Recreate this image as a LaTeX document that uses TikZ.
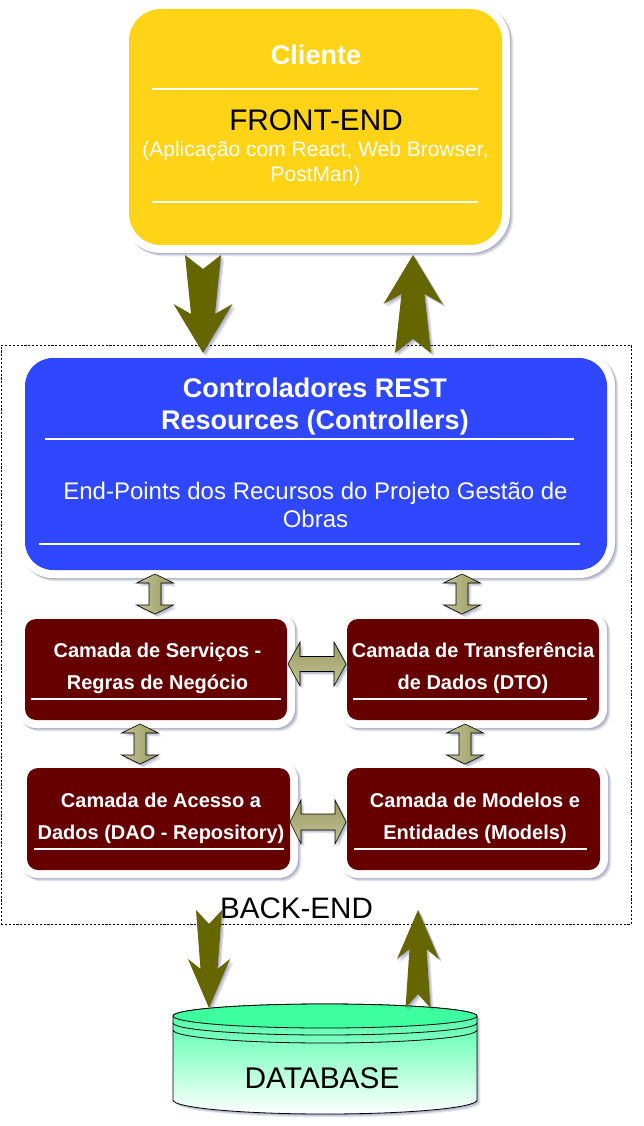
\documentclass[tikz,border=0pt]{standalone}
\usepackage{fontspec}
\setmainfont{Liberation Sans}
\usetikzlibrary{calc,shadows}
\newdimen\pxu \pxu=0.75pt
\definecolor{yellowbox}{HTML}{FFD417}
\definecolor{bluebox}{HTML}{2F47FF}
\definecolor{maroonbox}{HTML}{660000}
\definecolor{olivedark}{HTML}{666600}
\definecolor{olivelight}{HTML}{C2C396}
\definecolor{olivemid}{HTML}{999A60}
\definecolor{dbgreen}{HTML}{3DFFA0}
\definecolor{shadowc}{HTML}{5A5F8C}
\tikzset{
  softshadow/.style={
    drop shadow={shadow xshift=3.4\pxu,shadow yshift=-3.4\pxu,fill=shadowc,opacity=.14},
    drop shadow={shadow xshift=2.4\pxu,shadow yshift=-2.4\pxu,fill=shadowc,opacity=.2},
    drop shadow={shadow xshift=1.2\pxu,shadow yshift=-1.2\pxu,fill=shadowc,opacity=.26}},
  panelbox/.style={rectangle,inner sep=0pt,outer sep=0pt},
  rim/.style={panelbox,fill=white,softshadow},
  rulewhite/.style={draw=white,line width=1.15pt},
  fat/.style={fill=olivedark,softshadow},
  dbl/.style={draw=black,line width=.45pt,softshadow},
  dblv/.style={dbl,left color=olivelight,right color=olivemid},
  dblh/.style={dbl,top color=olivemid,bottom color=olivelight},
  lbl/.style={inner sep=0pt,outer sep=0pt,align=center},
  wlbl/.style={lbl,text=white},
  camada/.style={wlbl,font=\bfseries\fontsize{15}{24}\selectfont},
  dbline/.style={draw=black,line width=.6pt},
  frame/.style={draw=black,line width=.45pt,dash pattern=on 1.6pt off 1.3pt}
}
% name, left, top, right, bottom, radius, colour
\newcommand\panelnode[7]{%
  \node[rim,rounded corners=#6\pxu+8\pxu,minimum width={(#4-#2+16)*\pxu},minimum height={(#5-#3+16)*\pxu}]
    (#1rim) at ({(#2+#4)/2},{(#3+#5)/2}) {};
  \node[panelbox,fill=#7,rounded corners=#6\pxu,minimum width={(#4-#2)*\pxu},minimum height={(#5-#3)*\pxu}]
    (#1) at ({(#2+#4)/2},{(#3+#5)/2}) {};
}
% tail, tip, tail half, neck half, wing half
\newcommand\fatarrow[5]{%
  \coordinate (nk) at ($(#2)!39\pxu!(#1)$);
  \coordinate (wg) at ($(#2)!49\pxu!(#1)$);
  \coordinate (nt) at ($(#1)!14\pxu!(#2)$);
  \path[fat] ($(#1)!#3\pxu!90:(#2)$) -- (nt) -- ($(#1)!#3\pxu!-90:(#2)$)
    -- ($(nk)!#4\pxu!-90:(#2)$) -- ($(wg)!#5\pxu!-90:(#2)$) -- (#2)
    -- ($(wg)!#5\pxu!90:(#2)$) -- ($(nk)!#4\pxu!90:(#2)$) -- cycle;
}
% end a, end b, shaft half, wing half, head length, style
\newcommand\dblarrow[6]{%
  \coordinate (ha) at ($(#1)!#5\pxu!(#2)$);
  \coordinate (hb) at ($(#2)!#5\pxu!(#1)$);
  \path[#6] (#1) -- ($(ha)!#4\pxu!-90:(hb)$) -- ($(ha)!#3\pxu!-90:(hb)$)
    -- ($(hb)!#3\pxu!90:(ha)$) -- ($(hb)!#4\pxu!90:(ha)$) -- (#2)
    -- ($(hb)!#4\pxu!-90:(ha)$) -- ($(hb)!#3\pxu!-90:(ha)$)
    -- ($(ha)!#3\pxu!90:(hb)$) -- ($(ha)!#4\pxu!90:(hb)$) -- cycle;
}
\begin{document}
\begin{tikzpicture}[x=0.75pt,y=-0.75pt]
\useasboundingbox (0,0) rectangle (643,1126);
% back-end frame
\node[frame,rectangle,inner sep=0pt,minimum width=630*\pxu,minimum height=579*\pxu] (backend) at (316,634.5) {};
% boxes
\panelnode{client}{129}{9}{502}{245}{32}{yellowbox}
\panelnode{rest}{25}{358}{607}{570}{28}{bluebox}
\panelnode{serv}{25}{619}{287}{720}{11}{maroonbox}
\panelnode{dto}{347}{619}{599}{720}{11}{maroonbox}
\panelnode{dao}{27}{768}{290}{870}{11}{maroonbox}
\panelnode{models}{347}{768}{600}{870}{11}{maroonbox}
% white rules
\draw[rulewhite] (152,89) -- (478,89);
\draw[rulewhite] (152,202) -- (478,202);
\draw[rulewhite] (45,439) -- (574,439);
\draw[rulewhite] (39,544) -- (580,544);
\draw[rulewhite] (31,699) -- (281,699);
\draw[rulewhite] (353,699) -- (587,699);
\draw[rulewhite] (34,849) -- (284,849);
\draw[rulewhite] (354,849) -- (587,849);
% database
\node[panelbox,minimum width=304*\pxu,minimum height=110*\pxu] (db) at (325,1059) {};
\path[dbline,top color=dbgreen,bottom color=white,softshadow,shading angle=0]
  (173,1016) -- (173,1100) arc[start angle=180,end angle=360,x radius=152\pxu,y radius=14\pxu]
  -- (477,1016) arc[start angle=0,end angle=180,x radius=152\pxu,y radius=12\pxu] -- cycle;
\path[dbline,fill=dbgreen] (173,1016) arc[start angle=180,end angle=540,x radius=152\pxu,y radius=12\pxu] -- cycle;
\draw[dbline] (173,1023) arc[start angle=180,end angle=360,x radius=152\pxu,y radius=12\pxu];
\draw[dbline] (173,1030) arc[start angle=180,end angle=360,x radius=152\pxu,y radius=13\pxu];
% big arrows
\coordinate (a1) at ($(client.south)+(-112.5,10)$);
\coordinate (b1) at ($(rest.north)+(-113,-5)$);
\fatarrow{a1}{b1}{18}{12}{29.5}
\coordinate (a2) at ($(rest.north)+(97,-5)$);
\coordinate (b2) at ($(client.south)+(97.5,10)$);
\fatarrow{a2}{b2}{18}{11.5}{29.5}
\coordinate (a3) at ($(db.north)+(-116,-94)$);
\coordinate (b3) at ($(db.north)+(-116,4)$);
\fatarrow{a3}{b3}{13}{8.5}{21}
\coordinate (a4) at ($(db.north)+(93,4)$);
\coordinate (b4) at ($(db.north)+(93,-94)$);
\fatarrow{a4}{b4}{12.5}{8.5}{21}
% double arrows
\coordinate (c1) at ($(rest.south)+(-161,4)$);
\coordinate (d1) at ($(serv.north)+(-1,-5)$);
\dblarrow{c1}{d1}{6}{18.5}{9}{dblv}
\coordinate (c2) at ($(rest.south)+(146,4)$);
\coordinate (d2) at ($(dto.north)+(-11,-5)$);
\dblarrow{c2}{d2}{6}{18.5}{9}{dblv}
\coordinate (c3) at ($(serv.south)+(-16,4)$);
\coordinate (d3) at ($(dao.north)+(-18.5,-4)$);
\dblarrow{c3}{d3}{6}{18.5}{9}{dblv}
\coordinate (c4) at ($(dto.south)+(-8,4)$);
\coordinate (d4) at ($(models.north)+(-8.5,-4)$);
\dblarrow{c4}{d4}{6}{18.5}{9}{dblv}
\coordinate (e1) at ($(serv.east)+(1,-5.5)$);
\coordinate (f1) at ($(dto.west)+(-1,-5.5)$);
\dblarrow{e1}{f1}{7.5}{22}{12}{dblh}
\coordinate (e2) at ($(dao.east)+(0,3)$);
\coordinate (f2) at ($(models.west)+(-1,3)$);
\dblarrow{e2}{f2}{8}{22}{11}{dblh}
% texts
\node[wlbl,font=\bfseries\fontsize{20.25}{24}\selectfont] (t1) at (316,55) {Cliente};
\node[lbl,font=\fontsize{22.3}{26}\selectfont] (t2) at (316,120) {FRONT-END};
\node[wlbl,font=\fontsize{15.75}{18.75}\selectfont] (t3) at (315.5,164) {(Aplicação com React, Web Browser,\\PostMan)};
\node[wlbl,font=\bfseries\fontsize{20.25}{24}\selectfont] (t4) at (315,407) {Controladores REST\\Resources (Controllers)};
\node[wlbl,font=\fontsize{18}{21}\selectfont] (t5) at (315.5,505) {End-Points dos Recursos do Projeto Gestão de\\Obras};
\node[camada] (t6) at (157.5,668) {Camada de Serviços -\\Regras de Negócio};
\node[camada] (t7) at (473,668) {Camada de Transferência\\de Dados (DTO)};
\node[camada] (t8) at (161,818.5) {Camada de Acesso a\\Dados (DAO - Repository)};
\node[camada] (t9) at (475,818.5) {Camada de Modelos e\\Entidades (Models)};
\node[lbl,font=\fontsize{22.2}{26}\selectfont] (t10) at (296.5,908) {BACK-END};
\node[lbl,font=\fontsize{22.4}{26}\selectfont] (t11) at (322,1078) {DATABASE};
\end{tikzpicture}
\end{document}
